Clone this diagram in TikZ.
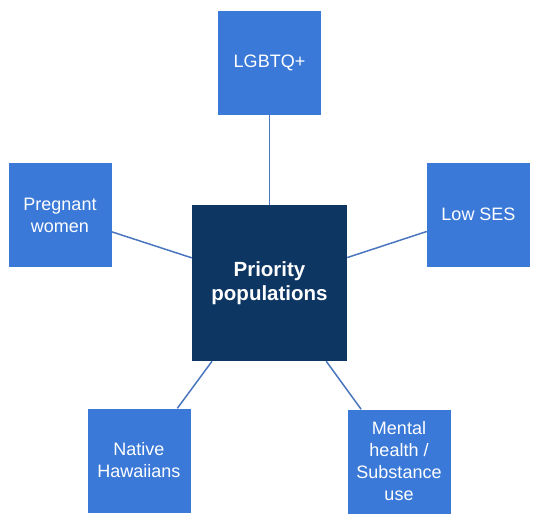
\documentclass[tikz,border=0pt]{standalone}
\usepackage{fontspec}
\setmainfont{Liberation Sans}
\usetikzlibrary{shapes}
\definecolor{popblue}{HTML}{3A79D7}
\definecolor{popnavy}{HTML}{0E3662}
\definecolor{linkblue}{HTML}{4A76BE}
\tikzset{
	groupbox/.style={fill=popblue, text=white, minimum width=103pt,
		minimum height=104pt, align=center, font=\fontsize{18}{22}\selectfont},
	hubbox/.style={fill=popnavy, text=white, minimum width=155pt,
		minimum height=156pt, align=center, font=\fontsize{20.5}{24}\selectfont\bfseries},
	link/.style={draw=linkblue, line width=1.5pt}
}
\begin{document}
\begin{tikzpicture}[x=1pt, y=-1pt]
			\useasboundingbox (0,0) rectangle (540,525);
			\node[hubbox] (hub) at (269.5,283) {Priority\\populations};
			\node[groupbox] (lgbtq) at (269.5,63) {LGBTQ+};
			\node[groupbox] (ses) at (478.5,214.5) {Low SES};
			\node[groupbox] (preg) at (60,215) {Pregnant\\women};
			\node[groupbox] (native) at (139,460.5) {Native\\Hawaiians};
			\node[groupbox] (mental) at (399,461.5) 
				{Mental\\health /\\Substance\\use};
			%% connectors
			\draw[link] (lgbtq) -- (hub);
			\draw[link] (ses) -- (hub);
			\draw[link] (preg) -- (hub);
			\draw[link] (native) -- (hub);
			\draw[link] (mental) -- (hub);
		\end{tikzpicture}
\end{document}
